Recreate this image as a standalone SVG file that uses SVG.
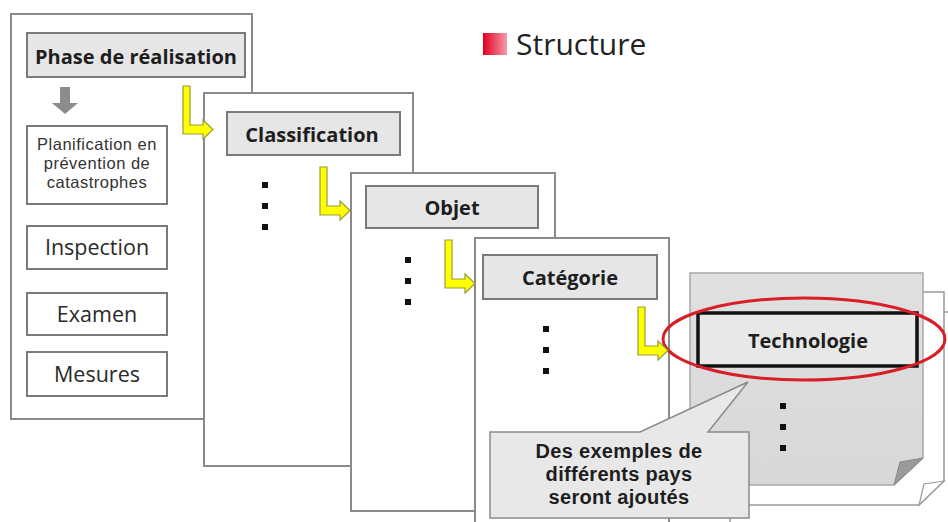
<svg xmlns="http://www.w3.org/2000/svg" width="948" height="522" viewBox="0 0 948 522">
<defs>
<style>
.panel{fill:#fff;stroke:#8a8a8a;stroke-width:2}
.hdr{fill:#e6e6e6;stroke:#7a7a7a;stroke-width:2}
.box{fill:#fff;stroke:#7a7a7a;stroke-width:2}
.ht{font-family:"Open Sans","Noto Sans",sans-serif;font-weight:700;font-size:20px;fill:#1e1e1e;text-anchor:middle}
.ct{font-family:"Liberation Sans",Arial,sans-serif;font-weight:700;font-size:20px;letter-spacing:0.3px;fill:#1e1e1e;text-anchor:middle}
.bt{font-family:"Open Sans","Noto Sans",sans-serif;font-size:21.5px;fill:#2a2a2a;text-anchor:middle}
.st{font-family:"Liberation Sans",Arial,sans-serif;font-size:16.5px;letter-spacing:0.5px;fill:#333;text-anchor:middle}
.dot{fill:#111}
.yarrow{fill:#ffff00;stroke:#9a9a40;stroke-width:1.2;stroke-linejoin:miter}
</style>
<linearGradient id="red" x1="0" y1="0" x2="1" y2="0">
<stop offset="0" stop-color="#e0001e"/>
<stop offset="1" stop-color="#f59aa8"/>
</linearGradient>
<linearGradient id="gpanel" x1="0" y1="0" x2="0" y2="1">
<stop offset="0" stop-color="#e0e0e0"/>
<stop offset="1" stop-color="#d8d8d8"/>
</linearGradient>
<path id="ya" d="M0,0 h7 v39 h13 v-5 l10,9.5 l-10,9.5 v-5 h-20 z"/>
<rect id="d" width="6" height="6"/>
</defs>

<g id="title">
<rect x="483" y="33" width="24" height="22" fill="url(#red)"/>
<text x="516" y="55" font-family="Open Sans, Noto Sans, sans-serif" font-size="30" fill="#222">Structure</text>
</g>

<g id="panel1">
<rect class="panel" x="11" y="14" width="241" height="405"/>
<rect class="hdr" x="27" y="33" width="218" height="44"/>
<text class="ht" x="136" y="64">Phase de réalisation</text>
<path d="M60,87 h10 v16 h8 l-13,11 l-13,-11 h8 z" fill="#8c8c8c"/>
<rect class="box" x="27" y="126" width="140" height="78"/>
<text class="st" x="97" y="150"><tspan x="97">Planification en</tspan><tspan x="97" dy="19">prévention de</tspan><tspan x="97" dy="19">catastrophes</tspan></text>
<rect class="box" x="27" y="226" width="140" height="43"/>
<text class="bt" x="97" y="255">Inspection</text>
<rect class="box" x="27" y="293" width="140" height="42"/>
<text class="bt" x="97" y="322">Examen</text>
<rect class="box" x="27" y="352" width="140" height="44"/>
<text class="bt" x="97" y="382">Mesures</text>
</g>

<g id="panel2">
<rect class="panel" x="204" y="93" width="209" height="373"/>
<rect class="hdr" x="227" y="112" width="173" height="43"/>
<text class="ht" x="312" y="142">Classification</text>
<use href="#d" class="dot" x="262" y="182"/>
<use href="#d" class="dot" x="262" y="203"/>
<use href="#d" class="dot" x="262" y="224"/>
</g>

<g id="panel3">
<rect class="panel" x="351" y="173" width="204" height="338"/>
<rect class="hdr" x="366" y="186" width="172" height="42"/>
<text class="ht" x="452" y="215">Objet</text>
<use href="#d" class="dot" x="405" y="257"/>
<use href="#d" class="dot" x="405" y="278"/>
<use href="#d" class="dot" x="405" y="299"/>
</g>

<g id="panel4">
<rect class="panel" x="475" y="238" width="194" height="300"/>
<rect class="hdr" x="483" y="255" width="174" height="44"/>
<text class="ht" x="570" y="285">Catégorie</text>
<use href="#d" class="dot" x="543" y="326"/>
<use href="#d" class="dot" x="543" y="347"/>
<use href="#d" class="dot" x="543" y="368"/>
</g>

<g id="panel5">
<path d="M730,312 H960 V540 H730 Z" fill="#fff" stroke="#9a9a9a" stroke-width="1.5"/>
<path d="M712,292 H944 V481 L919,505 H712 Z" fill="#fff" stroke="#9a9a9a" stroke-width="1.5"/>
<path d="M919,505 L944,481 L924,484 Z" fill="#fff" stroke="#9a9a9a" stroke-width="1.2"/>
<path d="M690,273 H923 V458 L894,485 H690 Z" fill="url(#gpanel)" stroke="#a8a8a8" stroke-width="1.5"/>
<path d="M894,485 L923,458 L900,462 Z" fill="#9a9a9a" stroke="#888" stroke-width="1"/>
<rect x="698" y="313" width="219" height="53" fill="#e8e8e8" stroke="#111" stroke-width="3.5"/>
<text class="ht" x="808" y="348">Technologie</text>
<use href="#d" class="dot" x="780" y="403"/>
<use href="#d" class="dot" x="780" y="424"/>
<use href="#d" class="dot" x="780" y="445"/>
<ellipse cx="804" cy="339" rx="141" ry="41" fill="none" stroke="#d81e28" stroke-width="3"/>
</g>

<g id="callout">
<path d="M490,432 H640 L748,382 L708,432 H749 V518 H490 Z" fill="#e8e8e8" stroke="#8a8a8a" stroke-width="1.5"/>
<text class="ct" x="619" y="458"><tspan x="619">Des exemples de</tspan><tspan x="619" dy="23">différents pays</tspan><tspan x="619" dy="23">seront ajoutés</tspan></text>
</g>

<g id="connectors">
<use href="#ya" class="yarrow" x="183" y="86"/>
<use href="#ya" class="yarrow" x="320" y="167"/>
<use href="#ya" class="yarrow" x="445" y="240"/>
<use href="#ya" class="yarrow" x="638" y="307"/>
</g>
</svg>
